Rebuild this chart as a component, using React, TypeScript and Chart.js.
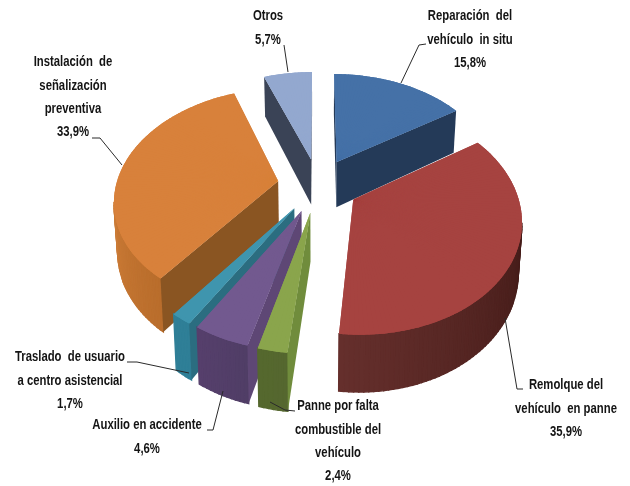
import React, { useEffect, useRef } from "react";
import { Chart, registerables } from "chart.js";

Chart.register(...registerables);

const categories = [
  "Reparación del vehículo in situ",
  "Remolque del vehículo en panne",
  "Panne por falta combustible del vehículo",
  "Auxilio en accidente",
  "Traslado de usuario a centro asistencial",
  "Instalación de señalización preventiva",
  "Otros",
];
const shares = [15.8, 35.9, 2.4, 4.6, 1.7, 33.9, 5.7];
const topColors = ["#4571A7", "#A64340", "#8AA54C", "#72598F", "#3F95AE", "#D8813B", "#93A8CF"];
const rimColorsA = ["#243A58", "#431B18", "#55672F", "#503E66", "#2F7F97", "#B96D2C", "#3A4356"];
const rimColorsB = ["#243A58", "#652F2C", "#55682E", "#563F6C", "#2F7F97", "#CB7B36", "#3A4356"];
const sideColors = ["#243A58", "#4A1F1C", "#708C3C", "#5E4775", "#2B6D80", "#8A5522", "#3A4356"];

const labelLines = [
  ["Reparación  del", "vehículo  in situ", "15,8%"],
  ["Remolque del", "vehículo  en panne", "35,9%"],
  ["Panne por falta", "combustible del", "vehículo", "2,4%"],
  ["Auxilio en accidente", "4,6%"],
  ["Traslado  de usuario", "a centro asistencial", "1,7%"],
  ["Instalación  de", "señalización", "preventiva", "33,9%"],
  ["Otros", "5,7%"],
];
const labelAnchors = [
  [470, 16],
  [566, 385],
  [338, 406],
  [147, 425],
  [70, 357],
  [73, 62],
  [268, 16],
];
const leaders = [
  [[426, 44], [419, 45], [401, 83]],
  [[523, 389], [517, 389], [505, 318]],
  [[295, 411], [285, 410], [270, 402]],
  [[207, 430], [213, 430], [223, 391]],
  [[127, 362], [137, 362], [189, 373]],
  [[92, 138], [100, 138], [122, 165]],
  [[284, 45], [288, 72]],
];

// Perspective of the pie's plane, in radius units
const FOCAL_X = 162;
const FOCAL_Y = 108.6;
const TILT = 0.159;
const EXPLODE = 0.25;
const DEPTH = 47;
const NARROWING = 0.018;
const STEP = (1.5 * Math.PI) / 180;
const LINE_HEIGHT = 23.4;
const TEXT_SQUEEZE = 0.73;

function mix(a: string, b: string, t: number) {
  const p = (s: string, i: number) => parseInt(s.slice(i, i + 2), 16);
  const c = [1, 3, 5].map((i) => Math.round(p(a, i) + (p(b, i) - p(a, i)) * t));
  return `rgb(${c[0]},${c[1]},${c[2]})`;
}

const pie3d = {
  id: "pie3d",
  beforeDatasetsDraw(chart: any) {
    const ctx = chart.ctx;
    const arcs = chart.getDatasetMeta(0).data;
    const cx = arcs[0].x;
    const cy = arcs[0].y;
    const project = (x: number, y: number) => {
      const den = 1 - TILT * y;
      return { X: cx + (FOCAL_X * x) / den, Y: cy + (FOCAL_Y * y) / den, w: 1 / den };
    };
    const drop = (p: any) => ({
      X: cx + (p.X - cx) * (1 - NARROWING),
      Y: p.Y + DEPTH * p.w,
    });
    const quad = (p: any, q: any, color: string, seal = 0) => {
      const a = drop(p);
      const b = drop(q);
      ctx.beginPath();
      ctx.moveTo(p.X, p.Y);
      ctx.lineTo(q.X, q.Y);
      ctx.lineTo(b.X, b.Y);
      ctx.lineTo(a.X, a.Y);
      ctx.closePath();
      ctx.fillStyle = color;
      ctx.fill();
      if (seal) {
        ctx.strokeStyle = color;
        ctx.lineWidth = seal;
        ctx.stroke();
      }
    };
    const items = arcs.map((arc: any, i: number) => {
      const mid = (arc.startAngle + arc.endAngle) / 2;
      const ox = EXPLODE * Math.cos(mid);
      const oy = EXPLODE * Math.sin(mid);
      return { arc, i, ox, oy, apex: project(ox, oy) };
    });
    items.sort((a: any, b: any) => a.apex.Y - b.apex.Y);

    for (const { arc, i, ox, oy, apex } of items) {
      const rim = (phi: number) => project(ox + Math.cos(phi), oy + Math.sin(phi));
      const s = arc.startAngle;
      const e = arc.endAngle;
      const n = Math.max(2, Math.ceil((e - s) / STEP));
      const angles = Array.from({ length: n + 1 }, (_, k) => s + ((e - s) * k) / n);
      const pts = angles.map(rim);

      // outer wall, only where it faces the viewer
      const front: number[] = [];
      for (let k = 0; k < n; k++) if (pts[k + 1].X < pts[k].X) front.push(k);
      front.forEach((k, idx) => {
        const t = front.length > 1 ? idx / (front.length - 1) : 0;
        quad(pts[k], pts[k + 1], mix(rimColorsA[i], rimColorsB[i], t), 1.4);
      });
      // cut walls
      if (pts[0].X < apex.X) quad(apex, pts[0], sideColors[i]);
      if (apex.X < pts[n].X) quad(pts[n], apex, sideColors[i]);

      // solid ground under the wedges, so that their joins do not show
      ctx.beginPath();
      ctx.moveTo(apex.X, apex.Y);
      pts.forEach((p: any) => ctx.lineTo(p.X, p.Y));
      ctx.closePath();
      ctx.fillStyle = arc.options.backgroundColor;
      ctx.fill();

      // top face, drawn by the library's arc element in thin wedges
      for (let k = 0; k < n; k++) {
        const a0 = angles[k];
        const a1 = Math.min(e, angles[k + 1] + 0.006);
        const ps = rim(a0);
        const pe = rim(a1);
        const usx = Math.cos(a0), usy = Math.sin(a0), uex = Math.cos(a1), uey = Math.sin(a1);
        const det = usx * uey - uex * usy;
        const v1x = ps.X - apex.X, v1y = ps.Y - apex.Y, v2x = pe.X - apex.X, v2y = pe.Y - apex.Y;
        const R = arc.outerRadius;
        const ma = (v1x * uey - v2x * usy) / det / R;
        const mc = (-v1x * uex + v2x * usx) / det / R;
        const mb = (v1y * uey - v2y * usy) / det / R;
        const md = (-v1y * uex + v2y * usx) / det / R;
        const wedge = Object.create(arc);
        wedge.startAngle = a0;
        wedge.endAngle = a1;
        wedge.circumference = a1 - a0;
        wedge.innerRadius = 0;
        ctx.save();
        ctx.transform(ma, mb, mc, md, apex.X, apex.Y);
        ctx.translate(-arc.x, -arc.y);
        wedge.draw(ctx);
        ctx.restore();
      }
    }
    return false;
  },
  afterDraw(chart: any) {
    const ctx = chart.ctx;
    ctx.save();
    ctx.strokeStyle = "#2a2a2a";
    ctx.lineWidth = 1;
    leaders.forEach((pts) => {
      ctx.beginPath();
      pts.forEach(([x, y], k) => (k ? ctx.lineTo(x, y) : ctx.moveTo(x, y)));
      ctx.stroke();
    });
    ctx.fillStyle = "#141414";
    ctx.font = 'bold 15.5px "Liberation Sans", sans-serif';
    ctx.textAlign = "center";
    ctx.textBaseline = "middle";
    labelLines.forEach((lines, i) => {
      lines.forEach((line, k) => {
        ctx.save();
        ctx.translate(labelAnchors[i][0], labelAnchors[i][1] + k * LINE_HEIGHT);
        ctx.scale(TEXT_SQUEEZE, 1);
        ctx.fillText(line, 0, 0);
        ctx.restore();
      });
    });
    ctx.restore();
  },
};

export default function App() {
  const ref = useRef<HTMLCanvasElement>(null);
  useEffect(() => {
    const chart = new Chart(ref.current as HTMLCanvasElement, {
      type: "pie",
      data: {
        labels: categories,
        datasets: [{ data: shares, backgroundColor: topColors, borderWidth: 0 }],
      },
      options: {
        responsive: false,
        animation: false,
        layout: { padding: { left: 6, right: 0, top: 0, bottom: 116 } },
        plugins: { legend: { display: false }, tooltip: { enabled: false } },
      },
      plugins: [pie3d],
    } as any);
    return () => chart.destroy();
  }, []);
  return (
    <div style={{ position: "fixed", left: 0, top: 0, width: 630, height: 486, background: "#fff" }}>
      <canvas ref={ref} width={630} height={486} style={{ display: "block" }} />
    </div>
  );
}
